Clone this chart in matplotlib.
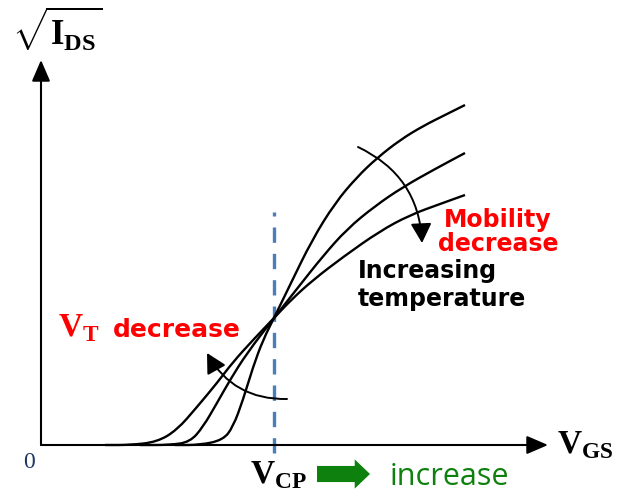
#!/usr/bin/env python
# -*- coding: utf-8 -*-

import matplotlib
matplotlib.use('Agg')
import matplotlib.pyplot as plt
from matplotlib.path import Path
from matplotlib.patches import PathPatch, FancyArrowPatch

plt.rcParams['mathtext.fontset'] = 'custom'
plt.rcParams['mathtext.bf'] = 'Liberation Serif:bold'
plt.rcParams['mathtext.rm'] = 'Liberation Serif'

CURVE_COLOR = 'black'
VCP_COLOR = '#4a7ebb'
RED = '#ff0000'
GREEN = '#0d800d'

# sketch units, origin at the corner of the axes
vgs_low_t = [134, 159, 182, 192, 202, 212, 222, 233, 249, 271, 294, 316,
             336, 359, 382, 406, 424]
sqrt_ids_low_t = [0, 0, 5, 18, 45, 78, 105, 127, 160, 205, 242, 268,
                  287, 305, 319, 331, 340]

vgs_mid_t = [99, 129, 149, 162, 176, 189, 206, 233, 259, 282, 306, 334,
             362, 394, 424]
sqrt_ids_mid_t = [0, 0, 3, 18, 42, 65, 92, 127, 160, 189, 216, 239,
                  258, 276, 292]

vgs_high_t = [64, 89, 116, 136, 156, 176, 192, 212, 233, 251, 272, 302,
              339, 369, 399, 424]
sqrt_ids_high_t = [0, 0, 3, 15, 38, 62, 83, 105, 127, 146, 165, 188,
                   214, 230, 241, 250]

VCP = 233           # crossing point of the three curves
VGS_MAX = 507       # end of the x axis arrow
SQRT_IDS_MAX = 385  # end of the y axis arrow


def smooth_path(xs, ys):
    # quadratic bezier through the midpoints, the read points are controls
    pts = list(zip(xs, ys))
    verts = [pts[0]]
    codes = [Path.MOVETO]
    mid = ((pts[0][0] + pts[1][0]) / 2, (pts[0][1] + pts[1][1]) / 2)
    verts.append(mid)
    codes.append(Path.LINETO)
    for i in range(1, len(pts) - 1):
        nxt = ((pts[i][0] + pts[i + 1][0]) / 2, (pts[i][1] + pts[i + 1][1]) / 2)
        verts += [pts[i], nxt]
        codes += [Path.CURVE3, Path.CURVE3]
    verts.append(pts[-1])
    codes.append(Path.LINETO)
    return Path(verts, codes)


fig = plt.figure(figsize=(6.18, 4.92), dpi=100)
ax = fig.add_axes([0, 0, 1, 1])
ax.set_xlim(-41, 577)
ax.set_ylim(-47, 445)
ax.axis('off')

# axes with arrow heads
axis_style = dict(arrowstyle='-|>,head_length=0.65,head_width=0.28',
                  color='black', lw=1.5, shrinkA=0, shrinkB=0,
                  mutation_scale=20)
ax.annotate('', xy=(0, SQRT_IDS_MAX), xytext=(0, 0), arrowprops=axis_style)
ax.annotate('', xy=(VGS_MAX, 0), xytext=(0, 0), arrowprops=axis_style)

# V_CP marker
ax.plot([VCP, VCP], [-8, 233], color=VCP_COLOR, lw=2.4,
        linestyle=(0, (4.6, 3.3)), zorder=1)

for xs, ys in [(vgs_low_t, sqrt_ids_low_t), (vgs_mid_t, sqrt_ids_mid_t),
               (vgs_high_t, sqrt_ids_high_t)]:
    ax.add_patch(PathPatch(smooth_path(xs, ys), fill=False,
                           edgecolor=CURVE_COLOR, lw=1.7, zorder=3))

# curved arrows
head = '-|>,head_length=0.6,head_width=0.32'
ax.add_patch(FancyArrowPatch((317, 298), (381, 202),
                             connectionstyle='arc3,rad=-0.3',
                             arrowstyle=head, mutation_scale=20,
                             color='black', lw=1.4, shrinkA=0, shrinkB=0))
ax.add_patch(FancyArrowPatch((246, 46), (166, 92),
                             connectionstyle='arc3,rad=-0.3',
                             arrowstyle=head, mutation_scale=20,
                             color='black', lw=1.4, shrinkA=0, shrinkB=0))

# labels
ax.text(16, 416, r'$\sqrt{\mathbf{I}_{\mathbf{DS}}}$', fontsize=25,
        ha='center', va='center')
ax.text(-12, -17, '0', fontsize=17, family='Liberation Serif',
        color='#1f3864', ha='center', va='center')
ax.text(516, -8, r'$\mathbf{V}_{\mathbf{GS}}$', fontsize=24,
        ha='left', va='baseline')
ax.text(209, -38, r'$\mathbf{V}_{\mathbf{CP}}$', fontsize=24,
        ha='left', va='baseline')

ax.add_patch(FancyArrowPatch(
    (276, -29), (329, -29),
    arrowstyle='simple,head_length=0.55,head_width=1.05,tail_width=0.58',
    mutation_scale=20, color=GREEN, lw=0, shrinkA=0, shrinkB=0))
ax.text(349, -40, 'increase', fontsize=22, family='Open Sans',
        color=GREEN, ha='left', va='baseline')

ax.text(17, 109, r'$\mathbf{V}_{\mathbf{T}}$', fontsize=24, color=RED,
        ha='left', va='baseline')
ax.text(72, 108, 'decrease', fontsize=18, fontweight='bold', color=RED,
        family='DejaVu Sans', ha='left', va='baseline')

ax.text(457, 218, 'Mobility', fontsize=17, fontweight='bold', color=RED,
        family='DejaVu Sans', ha='center', va='baseline')
ax.text(457, 194, 'decrease', fontsize=17, fontweight='bold', color=RED,
        family='DejaVu Sans', ha='center', va='baseline')
ax.text(317, 167, 'Increasing', fontsize=17, fontweight='bold',
        family='DejaVu Sans', ha='left', va='baseline')
ax.text(317, 139, 'temperature', fontsize=17, fontweight='bold',
        family='DejaVu Sans', ha='left', va='baseline')

fig.savefig('out.png', dpi=100)
